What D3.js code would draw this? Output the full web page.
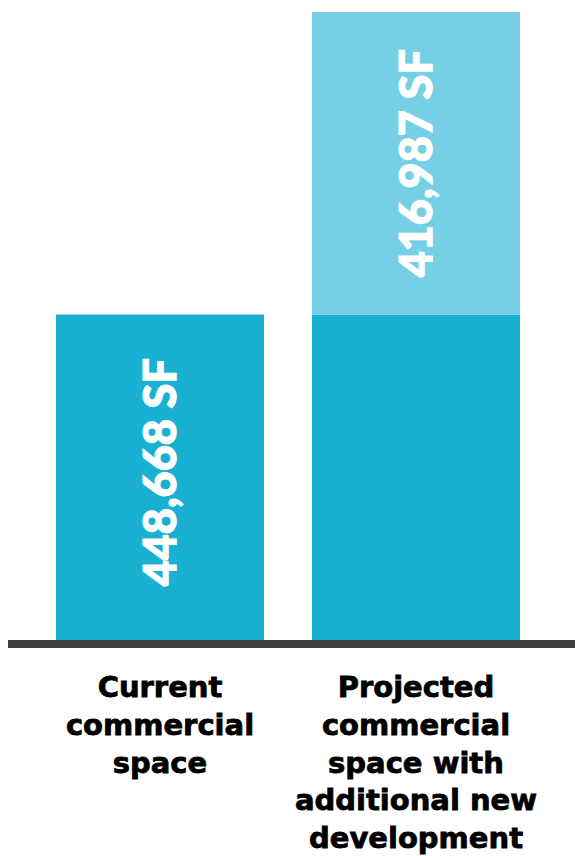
<!DOCTYPE html>
<html><head><meta charset="utf-8">
<script src="https://cdn.jsdelivr.net/npm/d3@7"></script>
<style>html,body{margin:0;padding:0;background:#fff;}</style>
</head><body>
<script>
const categories = ["Current commercial space", "Projected commercial space with additional new development"];
const categoryLines = [["Current","commercial","space"],["Projected","commercial","space with","additional new","development"]];
const currentSpace = [448668, 448668];
const additionalSpace = [0, 416987];
const valueLabels = [["448,668 SF", null], [null, "416,987 SF"]];

const W = 575, H = 856;
const svg = d3.select("body").append("svg").attr("width", W).attr("height", H);

const x = d3.scaleBand().domain(categories).range([56, 520]).paddingInner(0.1875).paddingOuter(0);
const y = d3.scaleLinear().domain([0, currentSpace[1] + additionalSpace[1]]).range([640, 12]);

const series = [
  {key: "current", values: currentSpace, color: "#1ab0d2"},
  {key: "additional", values: additionalSpace, color: "#75d0e5"}
];

categories.forEach((c, i) => {
  let base = 0;
  series.forEach((s, si) => {
    const v = s.values[i];
    if (v > 0) {
      const y0 = y(base), y1 = y(base + v);
      svg.append("rect").attr("x", x(c)).attr("width", x.bandwidth())
        .attr("y", y1).attr("height", y0 - y1).attr("fill", s.color);
      const lab = valueLabels[si][i];
      if (lab) {
        const cx = x(c) + x.bandwidth() / 2;
        const cy = (y0 + y1) / 2 - (si === 0 ? 5 : 0);
        svg.append("text").attr("transform", `translate(${cx},${cy}) rotate(-90)`)
          .attr("text-anchor", "middle").attr("dy", "0.36em")
          .attr("fill", "#fff").attr("stroke", "#fff").attr("stroke-width", 1.2)
          .attr("font-family", "Lato, sans-serif")
          .attr("font-weight", 900).attr("font-size", 45).text(lab);
      }
    }
    base += v;
  });
});

svg.append("rect").attr("x", 8).attr("y", 640).attr("width", W - 8).attr("height", 8).attr("fill", "#3b4142");

categories.forEach((c, i) => {
  const t = svg.append("text").attr("text-anchor", "middle")
    .attr("font-family", "'DejaVu Sans', sans-serif").attr("font-weight", "bold")
    .attr("font-size", 29).attr("fill", "#000").attr("stroke", "#000").attr("stroke-width", 0.8);
  categoryLines[i].forEach((ln, k) => {
    t.append("tspan").attr("x", x(c) + x.bandwidth() / 2).attr("y", 697 + k * 37.8).text(ln);
  });
});
</script>
</body></html>
